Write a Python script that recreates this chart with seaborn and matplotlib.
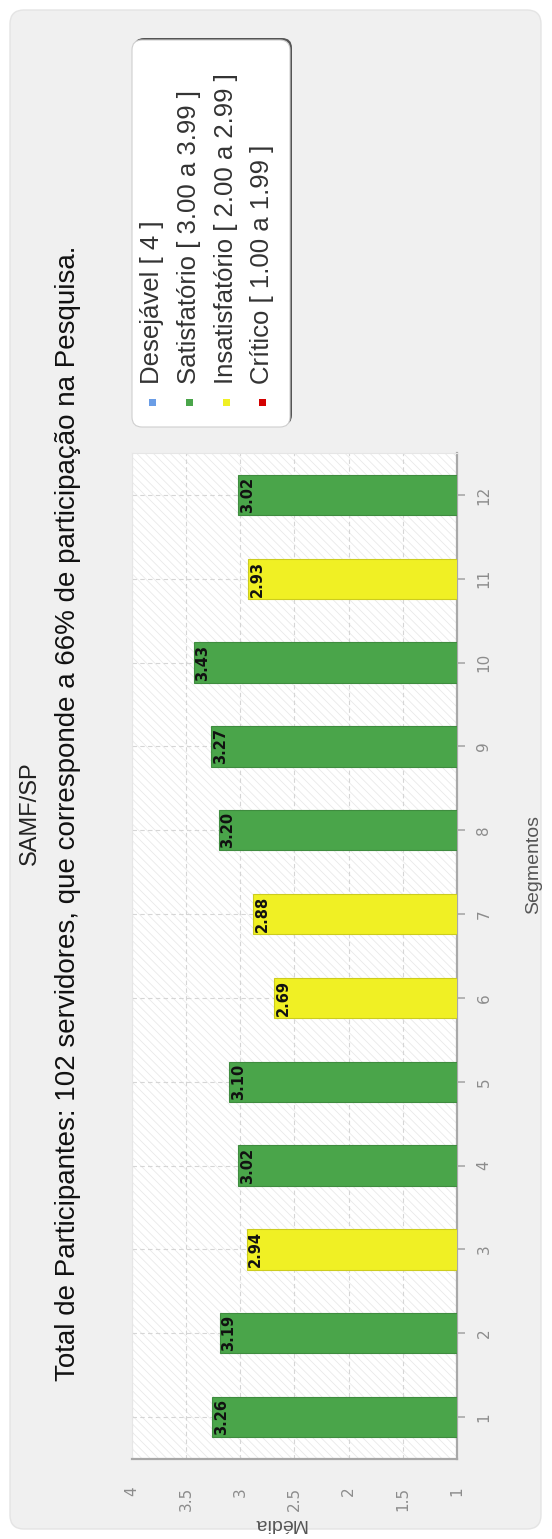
import matplotlib
matplotlib.use("Agg")
import matplotlib.pyplot as plt
from matplotlib.patches import FancyBboxPatch, Rectangle
from matplotlib.transforms import IdentityTransform, offset_copy
import seaborn as sns
import pandas as pd

# --- data -------------------------------------------------------------
segmentos = list(range(1, 13))
medias = [3.26, 3.19, 2.94, 3.02, 3.10, 2.69, 2.88, 3.20, 3.27, 3.43, 2.93, 3.02]

faixas_nomes = ["Desejável", "Satisfatório", "Insatisfatório", "Crítico"]
faixas_rotulos = [
    "Desejável [ 4 ]",
    "Satisfatório [ 3.00 a 3.99 ]",
    "Insatisfatório [ 2.00 a 2.99 ]",
    "Crítico [ 1.00 a 1.99 ]",
]
faixas_minimo = [4.0, 3.0, 2.0, 1.0]
faixas_cores = ["#6a9de6", "#4aa54a", "#f0f024", "#d40000"]

valores_eixo = [1, 1.5, 2, 2.5, 3, 3.5, 4]
rotulos_eixo = ["1", "1.5", "2", "2.5", "3", "3.5", "4"]

titulo = "SAMF/SP"
subtitulo = ("Total de Participantes: 102 servidores, que corresponde a 66% "
             "de participação na Pesquisa.")
rotulo_media = "Média"
rotulo_segmentos = "Segmentos"


def faixa_de(v):
    for nome, minimo in zip(faixas_nomes, faixas_minimo):
        if v >= minimo:
            return nome
    return faixas_nomes[-1]


df = pd.DataFrame({
    "Segmento": segmentos,
    "Média": medias,
    "Faixa": [faixa_de(v) for v in medias],
})
paleta = dict(zip(faixas_nomes, faixas_cores))

# --- figure (page turned sideways: categories run bottom to top) -------
W, H = 552, 1539
sns.set_style("white")
plt.rcParams["font.family"] = ["Liberation Sans", "DejaVu Sans"]
plt.rcParams["hatch.linewidth"] = 0.6
plt.rcParams["hatch.color"] = "#e9e9e9"

fig = plt.figure(figsize=(W / 100, H / 100), dpi=100)
fig.patch.set_facecolor("white")


def disp(x, y):
    """pixel position measured from the top-left corner -> display coords"""
    return x, H - y


# light grey panel behind everything
px, py = disp(10, 1529)
painel = FancyBboxPatch((px, py), 531, 1519,
                        boxstyle="round,pad=0,rounding_size=14",
                        transform=IdentityTransform(),
                        facecolor="#f0f0f0", edgecolor="#e4e4e4",
                        linewidth=1, zorder=-10)
fig.add_artist(painel)

# plotting area
x0, x1, y0, y1 = 132, 457, 453, 1459
ax = fig.add_axes([x0 / W, 1 - y1 / H, (x1 - x0) / W, (y1 - y0) / H])
ax.set_facecolor("white")
fundo = Rectangle((0, 0), 1, 1, transform=ax.transAxes,
                  facecolor="none", edgecolor="#e9e9e9",
                  hatch="\\\\\\\\", linewidth=0, zorder=0)
ax.add_patch(fundo)

sns.barplot(data=df, x="Média", y="Segmento", hue="Faixa",
            hue_order=faixas_nomes, palette=paleta, orient="h",
            native_scale=True, width=0.48, dodge=False, legend=False,
            saturation=1, ax=ax, zorder=3, linewidth=0.8)

for barra in ax.patches:
    if barra is fundo:
        continue
    fc = barra.get_facecolor()
    barra.set_edgecolor((fc[0] * 0.85, fc[1] * 0.85, fc[2] * 0.85, 1))

ax.set_xlim(4, 1)
ax.set_ylim(0.5, 12.5)

ax.set_axisbelow(True)
ax.grid(True, linestyle=(0, (4, 3)), color="#d6d6d6", linewidth=0.8)

ax.set_xticks(valores_eixo)
ax.set_xticklabels(rotulos_eixo, rotation=90)
ax.set_yticks(segmentos)
ax.set_yticklabels([str(s) for s in segmentos], rotation=90, va="center")
ax.yaxis.tick_right()
ax.yaxis.set_label_position("right")

ax.tick_params(axis="x", direction="out", length=9, width=1.2,
               color="#a8a8a8", labelcolor="#8c8c8c", labelsize=11,
               pad=11, labelfontfamily="DejaVu Sans")
ax.tick_params(axis="y", direction="out", length=6, width=1.2,
               color="#a8a8a8", labelcolor="#8c8c8c", labelsize=11,
               pad=8, left=False, right=True, labelleft=False,
               labelright=True, labelfontfamily="DejaVu Sans")

for lado in ("bottom", "right"):
    ax.spines[lado].set_color("#a8a8a8")
    ax.spines[lado].set_linewidth(1.6)
for lado in ("top", "left"):
    ax.spines[lado].set_color("#e6e6e6")
    ax.spines[lado].set_linewidth(0.8)

ax.set_xlabel(rotulo_media, rotation=180, fontsize=14, color="#555555")
ax.xaxis.set_label_coords((280 - x0) / (x1 - x0), -(1515 - y1) / (y1 - y0))
ax.set_ylabel(rotulo_segmentos, rotation=90, fontsize=14, color="#555555")
ax.yaxis.set_label_coords((525 - x0) / (x1 - x0), (y1 - 865) / (y1 - y0))

# value labels at the end of each bar
rot_trans = offset_copy(ax.transData, fig=fig, x=1.5, y=0, units="dots")
for s, v in zip(segmentos, medias):
    ax.text(v, s, f"{v:.2f}", rotation=90, ha="left", va="center",
            transform=rot_trans, fontsize=10.5, fontweight="bold",
            fontfamily="DejaVu Sans", color="#111111", zorder=5)

# titles
fig.text(30 / W, 1 - 813 / H, titulo, rotation=90, ha="center",
         va="center", fontsize=17, color="#222222")
fig.text(68 / W, 1 - 813 / H, subtitulo, rotation=90, ha="center",
         va="center", fontsize=20, color="#111111")

# legend box with a soft drop shadow
lx, ly, lw, lh = 132, 40, 158, 387
sx, sy = disp(lx + 2, ly + lh - 2)
sombra = FancyBboxPatch((sx, sy), lw, lh,
                        boxstyle="round,pad=0,rounding_size=10",
                        transform=IdentityTransform(), facecolor="#555555",
                        edgecolor="none", zorder=1)
bx, by = disp(lx, ly + lh)
caixa = FancyBboxPatch((bx, by), lw, lh,
                       boxstyle="round,pad=0,rounding_size=10",
                       transform=IdentityTransform(), facecolor="white",
                       edgecolor="#cfcfcf", linewidth=0.8, zorder=2)
fig.add_artist(sombra)
fig.add_artist(caixa)

itens_x = [152, 189, 226, 262]
for xi, rotulo, cor in zip(itens_x, faixas_rotulos, faixas_cores):
    mx, my = disp(xi - 3.5, 402 + 3.5)
    fig.add_artist(Rectangle((mx, my), 7, 7, transform=IdentityTransform(),
                             facecolor=cor, edgecolor="none", zorder=3))
    fig.text(xi / W, 1 - 384 / H, rotulo, rotation=90, ha="center",
             va="bottom", fontsize=18.5, color="#333333", zorder=3)

fig.savefig("out.png", dpi=100, facecolor="white")
